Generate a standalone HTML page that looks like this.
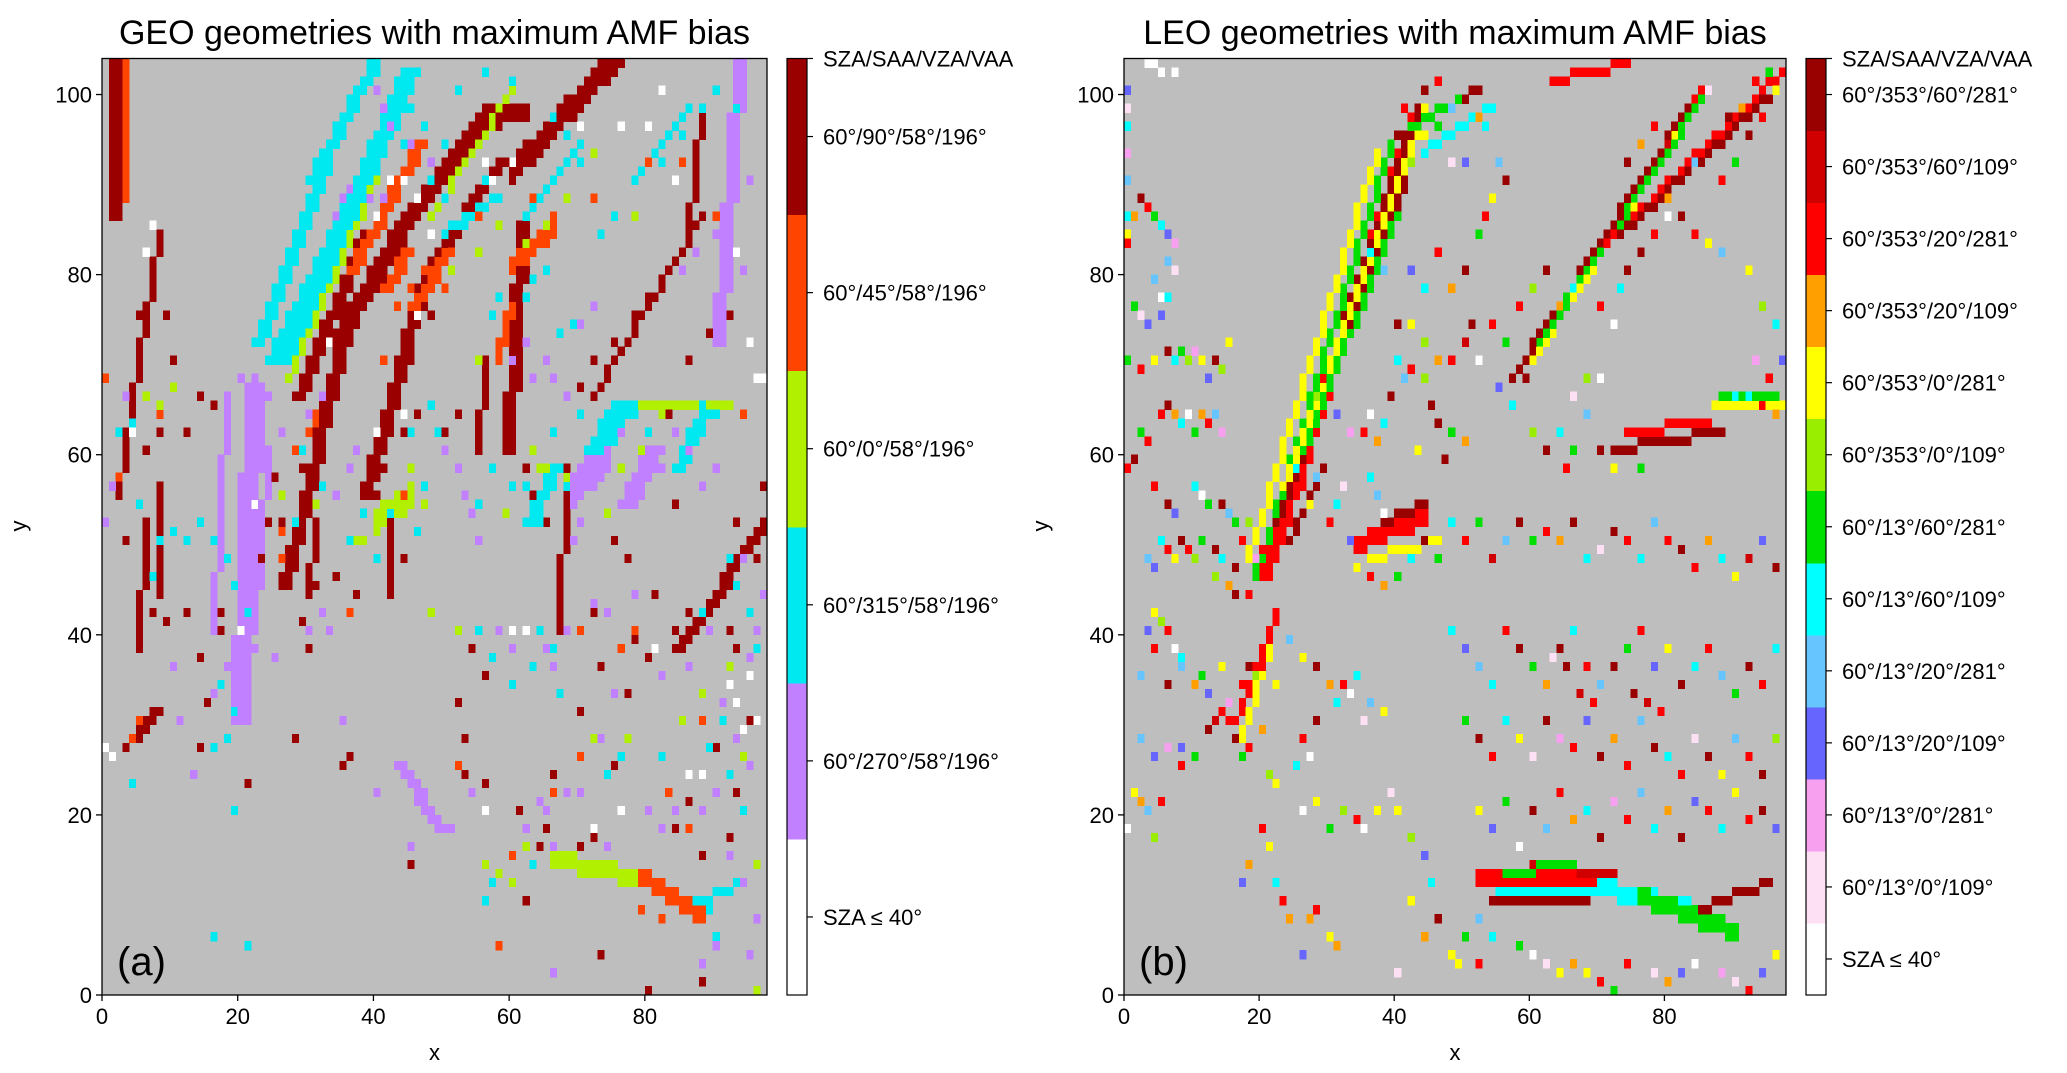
<!DOCTYPE html>
<html><head><meta charset="utf-8">
<style>
html,body{margin:0;padding:0;background:#fff;}
svg{display:block;font-family:"Liberation Sans","DejaVu Sans",sans-serif;}
</style></head>
<body>
<svg id="fig" width="2067" height="1073" viewBox="0 0 2067 1073" xmlns="http://www.w3.org/2000/svg">
<g id="pa"></g>
<g id="pb"></g>
</svg>
<script>
// ---------- data ----------
const xTicks=[0,20,40,60,80];
const yTicks=[0,20,40,60,80,100];
const nCols=98, nRows=104;
const catColorsA=['#ffffff','#c080ff','#00e8f0','#b0f000','#ff4400','#9a0000'];
const catLabelsA=['SZA \u2264 40\u00b0','60\u00b0/270\u00b0/58\u00b0/196\u00b0','60\u00b0/315\u00b0/58\u00b0/196\u00b0','60\u00b0/0\u00b0/58\u00b0/196\u00b0','60\u00b0/45\u00b0/58\u00b0/196\u00b0','60\u00b0/90\u00b0/58\u00b0/196\u00b0'];
const catColorsB=['#ffffff','#fde0f4','#f8a0f0','#6666ff','#66c4ff','#00ffff','#00e000','#99ee00','#ffff00','#ffa000','#ff0000','#d00000','#990000'];
const catLabelsB=['SZA \u2264 40\u00b0','60\u00b0/13\u00b0/0\u00b0/109\u00b0','60\u00b0/13\u00b0/0\u00b0/281\u00b0','60\u00b0/13\u00b0/20\u00b0/109\u00b0','60\u00b0/13\u00b0/20\u00b0/281\u00b0','60\u00b0/13\u00b0/60\u00b0/109\u00b0','60\u00b0/13\u00b0/60\u00b0/281\u00b0','60\u00b0/353\u00b0/0\u00b0/109\u00b0','60\u00b0/353\u00b0/0\u00b0/281\u00b0','60\u00b0/353\u00b0/20\u00b0/109\u00b0','60\u00b0/353\u00b0/20\u00b0/281\u00b0','60\u00b0/353\u00b0/60\u00b0/109\u00b0','60\u00b0/353\u00b0/60\u00b0/281\u00b0'];
// strokes: [x0,y0,x1,y1,thickness,category]
const strokesA=[
[1,86,1,103,2,5],[3,88,3,103,1,4],[8,84,5,70,1,5],[5,70,2,55,1,5],[5,38,6,52,1,5],[4,28,7,31,2,5],
[22,72,32,92,2,2],[30,90,40,104,2,2],[34,86,44,100,1,1],
[24,70,36,88,4,2],[36,88,44,102,3,2],[27,68,40,90,1,3],
[28,66,38,84,2,5],[30,62,40,80,1,4],[36,80,46,94,2,4],
[26,45,35,73,2,5],[33,72,44,86,3,5],[44,86,56,98,3,5],[60,90,76,103,3,5],[56,96,62,97,2,5],
[38,55,47,80,2,5],[47,80,58,92,2,5],[59,60,61,85,2,5],[58,70,60,76,1,4],[55,60,56,70,1,5],
[48,86,60,100,1,3],[60,80,66,84,2,4],[50,84,58,88,1,2],[62,86,70,94,1,2],
[19,30,21,67,3,1],[16,40,18,66,1,1],[22,40,24,60,1,1],[90,72,93,103,2,1],[67,40,68,58,1,5],
[66,14,78,12,2,3],[79,12,88,8,2,4],[88,10,94,12,1,2],[84,38,97,52,2,5],[72,66,88,86,1,5],
[40,51,45,54,3,3],[69,54,74,58,4,1],[71,60,75,65,4,2],[79,65,92,65,1,3],[43,25,49,18,2,1],
[76,54,80,60,3,1],[62,52,66,58,2,2],[84,58,88,64,2,2],[42,44,42,52,1,5],[30,44,31,52,1,5],
[45,76,50,82,2,4],[41,78,44,82,2,4],[86,84,88,98,1,5],[78,90,86,98,1,2],[8,44,8,56,1,5]];
const strokesB=[
[20,46,42,97,2,10],[21,50,43,98,1,12],[19,46,39,94,1,6],[23,56,44,98,1,8],
[22,52,41,90,1,12],[18,48,37,93,1,8],[26,60,40,86,1,6],[24,50,29,58,1,12],
[16,30,22,42,1,10],[17,28,21,38,1,8],[34,49,44,52,2,10],[38,52,44,54,1,12],[36,48,46,50,1,8],
[52,12,70,12,2,10],[54,10,68,10,1,12],[60,14,72,13,1,11],[70,11,86,8,2,5],[76,10,90,6,2,6],[55,11,75,11,1,5],
[85,9,95,12,1,12],[56,13,66,14,1,6],
[58,69,85,100,1,10],[60,70,84,98,1,8],[57,68,83,98,1,12],[61,72,86,100,1,6],
[71,83,97,102,1,10],[73,84,96,100,1,12],[63,101,74,103,1,10],
[40,95,52,100,1,12],[42,96,50,99,1,6],[44,93,54,98,1,5],[72,60,88,62,1,12],[74,62,86,63,1,10],[87,65,97,65,1,8],[88,66,96,66,1,6]];
// scattered cells: [x,y,category]
const cellsA=[
[2,56,5],[3,50,5],[6,48,5],[8,44,5],[7,42,5],[9,41,5],[12,42,5],[14,37,5],[17,42,5],[15,32,5],[14,27,5],[17,40,5],[28,28,5],[29,41,5],[30,38,5],[31,45,5],[34,46,5],[37,44,5],[44,62,5],[44,48,5],[40,55,5],[41,58,5],[26,52,5],[27,48,5],[25,57,5],[29,58,5],[54,38,5],[55,40,5],[56,35,5],[52,32,5],[53,28,5],[53,24,5],[56,23,5],[61,20,5],[64,16,5],[65,18,5],[70,16,5],[72,17,5],[66,24,5],[70,31,5],[75,25,5],[77,33,5],[78,39,5],[80,37,5],[84,40,5],[86,42,5],[92,40,5],[93,38,5],[95,30,5],[93,22,5],[90,27,5],[86,21,5],[84,18,5],[88,15,5],[92,17,5],[96,48,5],[97,56,5],[93,52,5],[72,42,5],[73,36,5],[75,50,5],[77,48,5],[81,44,5],[83,64,5],[82,58,5],[84,54,5],[86,70,5],[89,73,5],[92,75,5],[70,67,5],[72,70,5],[75,72,5],[78,75,5],[80,77,5],[50,62,5],[52,64,5],[46,64,5],[48,75,5],[50,60,5],[45,70,5],[21,23,5],[35,25,5],[36,26,5],[45,14,5],[62,10,5],[73,4,5],[88,1,5],[80,0,5],[3,27,5],[6,60,5],[8,62,5],[12,62,5],[14,66,5],[16,65,5],[9,75,5],[5,75,5],[10,70,5],[24,52,5],[23,48,5],[60,62,5],[62,58,5],[63,55,5],[65,52,5],
[0,68,4],[2,57,4],[5,30,4],[4,28,4],[8,64,4],[26,51,4],[26,48,4],[28,60,4],[36,42,4],[44,55,4],[41,70,4],[43,76,4],[45,78,4],[47,80,4],[50,78,4],[55,86,4],[58,72,4],[59,75,4],[63,88,4],[66,86,4],[72,88,4],[80,92,4],[85,92,4],[90,86,4],[94,64,4],[88,30,4],[83,22,4],[86,18,4],[52,25,4],[60,15,4],[66,22,4],[70,40,4],[78,40,4],[81,12,4],[84,10,4],[79,9,4],[82,8,4],[87,8,4],[58,5,4],[76,38,4],[70,26,4],
[6,66,3],[8,65,3],[10,67,3],[26,55,3],[31,54,3],[37,50,3],[38,50,3],[47,54,3],[59,53,3],[63,60,3],[64,58,3],[65,58,3],[68,57,3],[74,53,3],[76,58,3],[79,60,3],[82,64,3],[55,70,3],[45,58,3],[48,42,3],[52,40,3],[56,14,3],[58,13,3],[60,12,3],[62,16,3],[66,16,3],[72,28,3],[77,28,3],[85,30,3],[88,33,3],[92,36,3],[94,26,3],[96,14,3],[96,0,3],[51,80,3],[55,82,3],[58,85,3],[62,83,3],[65,85,3],[68,88,3],[72,93,3],[78,86,3],[84,90,3],
[2,62,2],[4,63,2],[5,54,2],[8,50,2],[10,51,2],[7,46,2],[12,50,2],[14,52,2],[16,50,2],[18,48,2],[19,45,2],[20,40,2],[21,42,2],[17,34,2],[19,31,2],[18,28,2],[16,27,2],[4,23,2],[28,52,2],[29,60,2],[32,56,2],[36,50,2],[38,53,2],[40,48,2],[42,53,2],[46,51,2],[47,56,2],[48,65,2],[49,62,2],[45,62,2],[55,54,2],[57,58,2],[60,56,2],[62,56,2],[64,52,2],[66,62,2],[68,56,2],[70,64,2],[72,60,2],[78,64,2],[80,62,2],[86,62,2],[88,65,2],[90,64,2],[84,58,2],[92,48,2],[93,45,2],[95,42,2],[96,38,2],[88,42,2],[91,30,2],[89,27,2],[92,24,2],[94,20,2],[56,10,2],[57,12,2],[63,14,2],[74,24,2],[76,26,2],[82,26,2],[87,10,2],[89,9,2],[90,6,2],[64,40,2],[67,33,2],[55,40,2],[57,37,2],[60,34,2],[63,36,2],[66,38,2],[73,84,2],[75,86,2],[78,90,2],[82,92,2],[85,95,2],[88,98,2],[90,100,2],[93,98,2],[52,100,2],[56,102,2],[60,101,2],[66,97,2],[68,95,2],[70,92,2],[48,90,2],[50,88,2],[53,85,2],[56,90,2],[45,98,2],[44,94,2],[47,96,2],[50,94,2],[16,6,2],[19,20,2],[21,5,2],[57,75,2],[58,77,2],[62,77,2],[63,79,2],[65,80,2],[67,73,2],[69,74,2],
[0,52,1],[1,56,1],[3,66,1],[10,36,1],[11,30,1],[13,24,1],[16,33,1],[18,36,1],[22,38,1],[25,37,1],[30,40,1],[32,42,1],[33,40,1],[36,58,1],[37,60,1],[34,55,1],[50,60,1],[52,58,1],[53,55,1],[54,53,1],[55,50,1],[58,40,1],[60,38,1],[62,40,1],[65,38,1],[66,36,1],[68,40,1],[72,43,1],[74,42,1],[78,44,1],[82,35,1],[86,36,1],[89,40,1],[95,37,1],[96,40,1],[97,44,1],[94,48,1],[91,32,1],[93,28,1],[95,25,1],[90,22,1],[88,20,1],[92,15,1],[94,12,1],[96,8,1],[95,4,1],[90,5,1],[88,3,1],[75,33,1],[73,28,1],[65,20,1],[62,18,1],[64,21,1],[66,16,1],[68,22,1],[70,22,1],[74,16,1],[80,20,1],[82,18,1],[84,20,1],[66,2,1],[69,50,1],[70,52,1],[72,56,1],[74,60,1],[76,62,1],[80,60,1],[82,58,1],[84,62,1],[86,60,1],[88,56,1],[90,58,1],[60,70,1],[62,72,1],[63,68,1],[65,70,1],[66,68,1],[68,66,1],[70,74,1],[72,76,1],[85,80,1],[87,82,1],[90,84,1],[92,86,1],[93,88,1],[95,90,1],[92,78,1],[94,80,1],[40,100,1],[41,98,1],[42,96,1],[45,94,1],[48,92,1],[39,88,1],[41,88,1],[22,58,1],[24,60,1],[26,62,1],[22,50,1],[20,68,1],[22,68,1],[24,66,1],[30,64,1],[32,66,1],[35,30,1],[40,22,1],[45,16,1],[47,20,1],[51,18,1],[54,22,1],
[0,27,0],[1,26,0],[4,62,0],[6,82,0],[7,85,0],[20,40,0],[22,54,0],[33,72,0],[40,62,0],[44,64,0],[46,75,0],[48,84,0],[42,90,0],[40,86,0],[44,90,0],[46,88,0],[56,92,0],[57,90,0],[60,92,0],[70,96,0],[76,96,0],[80,96,0],[82,100,0],[84,90,0],[93,82,0],[95,72,0],[96,68,0],[97,68,0],[92,34,0],[93,32,0],[95,35,0],[94,29,0],[96,30,0],[86,24,0],[88,24,0],[72,18,0],[76,20,0],[56,20,0],[60,40,0],[62,40,0],[81,38,0]];
const cellsB=[
[0,100,3],[0,98,1],[0,96,5],[0,93,2],[0,90,4],[0,86,5],[0,84,8],[0,83,10],[3,103,0],[4,103,0],[5,102,0],[7,102,0],
[2,88,12],[3,87,10],[1,86,9],[4,86,6],[5,85,5],[6,84,3],[7,83,2],[6,81,4],[7,80,1],[4,79,4],[5,77,0],[6,77,5],[5,75,3],
[1,76,6],[2,75,1],[3,74,3],[0,70,6],[2,69,10],[4,70,8],[6,71,12],[7,70,5],[8,71,6],[9,70,7],[10,71,2],[11,70,8],[13,70,12],[12,68,3],[14,69,7],[15,72,8],[5,64,10],[6,65,12],[7,64,9],[8,63,5],[9,64,0],[10,62,6],[11,64,9],[12,63,10],[13,64,4],[14,62,2],[2,62,6],[3,61,10],[1,59,12],[0,58,10],[4,56,10],[6,54,12],[7,53,3],[10,56,5],[11,55,0],[12,54,6],[14,54,12],[15,53,4],[16,52,6],[18,52,7],[3,48,4],[4,47,3],[5,50,5],[6,49,10],[7,48,8],[8,50,12],[9,49,10],[10,48,7],[11,50,6],[13,49,12],[14,48,5],[16,47,12],[17,50,10],[19,48,2],[20,49,10],[13,46,7],[15,45,9],[16,44,12],[18,44,10],
[4,42,8],[5,41,7],[3,40,3],[6,40,10],[4,38,10],[7,38,0],[8,37,5],[2,35,4],[6,34,12],[8,36,4],[10,34,9],[11,35,6],[12,33,3],[14,36,8],[15,32,2],[17,34,10],[18,36,12],[19,35,7],[20,36,10],[22,34,8],[24,39,4],[26,37,8],[28,36,12],[30,34,9],[31,32,5],[32,34,10],[34,35,5],[36,32,4],[38,31,8],[33,33,0],[35,30,1],
[2,28,4],[4,26,3],[6,27,2],[8,25,10],[10,26,6],[12,29,12],[13,30,11],[14,31,10],[15,30,10],[16,28,12],[17,26,6],[18,27,10],[20,29,9],[21,24,7],[22,23,8],[25,25,5],[26,28,10],[27,26,0],[28,30,12],[1,22,8],[2,21,9],[3,20,4],[5,21,10],[8,27,3],[0,18,0],[4,17,7],[20,18,10],[21,16,8],[18,14,9],[17,12,3],[26,20,0],[28,21,8],[30,18,6],[32,20,7],[34,19,10],[35,18,0],[37,20,8],[39,22,1],[40,20,8],[42,17,7],[44,15,3],[45,12,5],
[28,66,7],[29,68,10],[31,64,3],[33,62,2],[35,62,10],[36,64,0],[37,61,9],[38,63,5],[39,66,12],[40,70,5],[41,68,4],[42,69,10],[44,72,7],[45,65,12],[46,63,12],[48,62,6],[50,61,9],[43,60,8],[47,59,12],[36,57,5],[37,55,4],[38,53,0],[31,54,5],[30,52,10],[32,56,1],[25,58,5],[26,56,10],[27,54,8],[28,57,4],[33,50,3],[34,47,8],[36,46,10],[38,45,9],[40,46,6],[42,48,5],[44,50,12],[46,48,6],[48,52,5],[50,50,10],[52,52,6],[54,48,11],[56,50,4],[58,52,12],[60,50,6],[62,51,10],[64,50,9],[66,52,12],[68,48,5],[70,49,1],[72,51,12],[74,50,10],[76,48,5],[78,52,4],[80,50,10],[82,49,12],[84,47,10],[86,50,9],[88,48,5],[90,46,8],[92,48,11],[94,50,3],[96,47,12],
[42,80,3],[44,78,5],[46,82,10],[48,78,9],[50,80,12],[52,84,6],[53,86,10],[54,88,8],[56,90,12],[55,92,4],[50,92,3],[48,92,1],[46,96,6],[44,95,8],[42,92,7],[41,98,10],[44,100,12],[46,101,10],[48,98,4],[50,99,12],[52,97,9],[53,96,5],[38,80,4],[36,82,5],[40,74,12],[42,74,8],[44,68,7],[46,70,9],[48,70,10],[50,72,11],[51,74,12],[52,70,0],[55,67,3],[57,65,5],[59,68,12],[60,62,7],[62,60,12],[64,62,5],[65,58,10],[66,60,6],[68,64,4],[70,60,12],[72,58,8],[74,62,10],[76,58,6],[58,76,10],[60,78,7],[62,80,12],[64,76,9],[66,78,5],[68,80,6],[70,76,10],[72,74,0],[66,66,1],[68,68,7],[70,68,0],[56,72,6],[54,74,10],
[74,92,12],[76,94,9],[78,96,10],[80,94,11],[82,96,6],[84,92,4],[86,93,12],[88,90,10],[90,92,6],[92,95,12],[94,97,10],[96,100,8],[95,102,6],[93,101,10],[91,98,9],[89,97,12],[86,100,1],[80,88,9],[82,86,12],[84,84,10],[86,83,8],[88,82,4],[92,80,8],[94,76,7],[96,74,5],[97,70,3],[95,68,10],[93,70,2],[90,66,5],[92,66,5],[94,65,10],[96,64,9],[80,86,0],[78,84,10],[76,82,12],[74,80,12],[73,78,5],
[48,40,5],[50,38,3],[52,36,4],[54,34,5],[56,40,10],[58,38,12],[60,36,6],[62,34,9],[64,38,12],[66,40,5],[68,36,10],[70,34,4],[72,36,12],[74,38,6],[76,40,10],[78,36,3],[80,38,8],[82,34,12],[84,36,5],[86,38,10],[88,35,4],[90,33,6],[92,36,12],[94,34,10],[96,38,5],[50,30,6],[52,28,12],[54,26,10],[56,30,5],[58,28,8],[60,26,1],[62,30,12],[64,28,2],[66,27,10],[68,30,3],[70,26,12],[72,28,9],[74,25,10],[76,30,4],[78,27,12],[80,26,5],[82,24,10],[84,28,1],[86,26,12],[88,24,8],[90,28,4],[92,26,10],[94,24,12],[96,28,7],[52,20,8],[54,18,3],[56,21,6],[58,16,0],[60,20,12],[62,18,4],[64,22,10],[66,19,9],[68,20,5],[70,17,12],[72,21,2],[74,19,10],[76,22,4],[78,18,5],[80,20,9],[82,17,12],[84,21,3],[86,20,10],[88,18,5],[90,22,8],[92,19,10],[94,20,12],[96,18,3],[63,37,1],[65,36,12],[67,33,11],[69,32,10],[75,33,12],[77,32,11],[79,31,10],
[40,2,1],[48,4,8],[49,3,8],[52,3,10],[58,5,6],[60,4,0],[62,3,1],[64,2,8],[66,3,9],[68,2,8],[70,1,10],[72,0,6],[74,3,10],[78,2,1],[80,1,9],[82,2,3],[84,3,0],[88,2,2],[90,1,1],[92,0,10],[94,2,3],[96,4,8],[44,6,9],[46,8,12],[42,10,8],[30,6,8],[31,5,9],[26,4,3],[27,8,9],[28,9,10],[22,12,5],[23,10,10],[24,8,9],[50,6,6],[52,8,4],[54,6,5]];

// ---------- drawing ----------
const NS='http://www.w3.org/2000/svg';
function mk(parent,tag,attrs,text){const e=document.createElementNS(NS,tag);for(const k in attrs)e.setAttribute(k,attrs[k]);if(text!==undefined)e.textContent=text;parent.appendChild(e);return e;}

function buildGrid(strokes,cells){
  const g={};
  for(const s of strokes){
    const [x0,y0,x1,y1,w,c]=s;const dx=x1-x0,dy=y1-y0;const n=Math.max(Math.abs(dx),Math.abs(dy),1);
    const vert=Math.abs(dy)>=Math.abs(dx);
    for(let i=0;i<=n;i++){const x=Math.round(x0+dx*i/n),y=Math.round(y0+dy*i/n);
      for(let k=0;k<w;k++){const cx=vert?x+k:x,cy=vert?y:y+k;if(cx>=0&&cx<nCols&&cy>=0&&cy<nRows)g[cx+','+cy]=c;}}
  }
  for(const [x,y,c] of cells){if(x>=0&&x<nCols&&y>=0&&y<nRows)g[x+','+y]=c;}
  return g;
}

function panel(root,o){
  const L=o.left,R=o.right,T=58.5,B=995;
  const sx=v=>L+(R-L)*v/nCols, sy=v=>B-(B-T)*v/nRows;
  mk(root,'text',{x:(L+R)/2,y:44,'text-anchor':'middle','font-size':34,fill:'#000',},o.title);
  mk(root,'rect',{x:L,y:T,width:R-L,height:B-T,fill:'#bebebe',});
  const cg=mk(root,'g',{'shape-rendering':'crispEdges'});
  const grid=buildGrid(o.strokes,o.cells);
  for(const key in grid){const [x,y]=key.split(',').map(Number);
    const r=document.createElementNS(NS,'rect');
    r.setAttribute('x',sx(x));r.setAttribute('y',sy(y+1));r.setAttribute('width',sx(x+1)-sx(x)+0.3);r.setAttribute('height',sy(y)-sy(y+1)+0.3);r.setAttribute('fill',o.colors[grid[key]]);
    
    
    cg.appendChild(r);}
  mk(root,'rect',{x:L,y:T,width:R-L,height:B-T,fill:'none',stroke:'#000','stroke-width':1.3,});
  mk(root,'text',{x:L+15,y:B-20,'font-size':40,fill:'#000',},o.panelLabel);
  for(const t of xTicks){const x=sx(t);
    mk(root,'line',{x1:x,x2:x,y1:B,y2:B+6,stroke:'#000','stroke-width':1.3,});
    mk(root,'text',{x:x,y:B+29,'text-anchor':'middle','font-size':22,},String(t));}
  for(const t of yTicks){const y=sy(t);
    mk(root,'line',{x1:L-6,x2:L,y1:y,y2:y,stroke:'#000','stroke-width':1.3,});
    mk(root,'text',{x:L-10,y:y+8,'text-anchor':'end','font-size':22,},String(t));}
  mk(root,'text',{x:(L+R)/2,y:1060,'text-anchor':'middle','font-size':22,},'x');
  mk(root,'text',{x:L-76,y:526,'text-anchor':'middle','font-size':22,transform:`rotate(-90 ${L-76} 526)`,},'y');
  const cbx=o.cbx,cbw=20,n=o.colors.length,h=(B-T)/n;
  const cb=mk(root,'g',{'shape-rendering':'crispEdges'});
  o.colors.forEach((c,i)=>{
    mk(cb,'rect',{x:cbx,y:B-(i+1)*h,width:cbw,height:h+0.5,fill:c,});
    const yc=B-(i+0.5)*h;
    mk(root,'line',{x1:cbx+cbw,x2:cbx+cbw+6,y1:yc,y2:yc,stroke:'#000','stroke-width':1.2,});
    mk(root,'text',{x:cbx+cbw+16,y:yc+8,'font-size':22,},o.labels[i]);
  });
  mk(root,'line',{x1:cbx+cbw,x2:cbx+cbw+6,y1:T,y2:T,stroke:'#000','stroke-width':1.2,});
  mk(root,'text',{x:cbx+cbw+16,y:T+8,'font-size':22,},'SZA/SAA/VZA/VAA');
  mk(root,'rect',{x:cbx,y:T,width:cbw,height:B-T,fill:'none',stroke:'#000','stroke-width':1.2,});
}
panel(document.getElementById('pa'),{left:102,right:767,cbx:787,title:'GEO geometries with maximum AMF bias',panelLabel:'(a)',colors:catColorsA,labels:catLabelsA,strokes:strokesA,cells:cellsA});
panel(document.getElementById('pb'),{left:1124,right:1786,cbx:1806,title:'LEO geometries with maximum AMF bias',panelLabel:'(b)',colors:catColorsB,labels:catLabelsB,strokes:strokesB,cells:cellsB});
</script>
</body></html>
